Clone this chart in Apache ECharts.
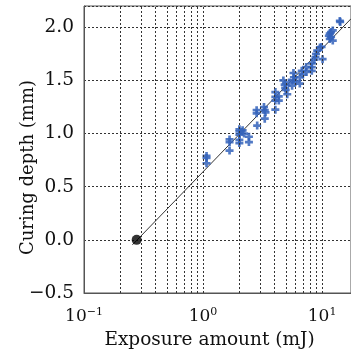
<!DOCTYPE html>
<html>
<head>
<meta charset="utf-8">
<script src="https://cdn.jsdelivr.net/npm/echarts@6/dist/echarts.min.js"></script>
<style>
  html, body { margin: 0; padding: 0; background: #fff; }
  #chart { width: 351px; height: 356px; }
</style>
</head>
<body>
<div id="chart"></div>
<script>
// measured curing depth (mm) vs exposure (mJ)
const measX = [1.07, 1.07, 1.07, 1.67, 1.67, 1.67, 2.02, 2.02, 2.02, 2.02, 2.02, 2.21, 2.15,
  2.43, 2.43, 2.85, 2.82, 2.82, 3.25, 3.3, 3.3, 3.35, 4.05, 4.05, 4.05, 4.05, 4.33, 4.33,
  4.73, 4.85, 4.9, 4.95, 5.1, 5.3, 5.75, 5.8, 5.75, 5.6, 6.0, 6.5, 6.5, 6.75, 6.9,
  7.35, 7.4, 8.2, 8.2, 8.2, 8.6, 8.8, 8.9, 9.1, 9.6, 9.9, 10.1, 11.4, 11.6, 11.9, 11.6, 11.9,
  12.3, 12.3, 14.1, 14.2];
const measY = [0.79, 0.77, 0.72, 0.945, 0.92, 0.84, 1.04, 1.02, 0.99, 0.94, 0.91, 1.0, 1.03,
  0.97, 0.92, 1.075, 1.22, 1.19, 1.25, 1.22, 1.14, 1.2, 1.39, 1.345, 1.31, 1.225, 1.35, 1.31,
  1.5, 1.46, 1.43, 1.41, 1.37, 1.48, 1.57, 1.53, 1.5, 1.45, 1.49, 1.53, 1.47, 1.59, 1.555,
  1.625, 1.58, 1.66, 1.625, 1.59, 1.695, 1.72, 1.75, 1.78, 1.81, 1.815, 1.70, 1.92, 1.94, 1.955, 1.89, 1.91,
  1.875, 1.97, 2.06, 2.05];
// critical exposure point
const critPoint = [[0.277, 0.0]];
// fitted working curve endpoints
const fitLine = [[0.255, -0.047], [17.5, 2.08]];
// dotted log grid positions
const xGrid = [0.2, 0.3, 0.4, 0.5, 0.6, 0.7, 0.8, 0.9, 1, 2, 3, 4, 5, 6, 7, 8, 9, 10];
const supMap = {'-1': '\u22121', '0': '0', '1': '1'};

const font = 'DejaVu Serif';
const txt = '#111';
const dotted = {color: '#333', width: 1, type: [2, 2]};

const chart = echarts.init(document.getElementById('chart'));
const opts = {
  animation: false,
  grid: {left: 84, right: 0, top: 6, bottom: 63, show: true, borderColor: '#555', borderWidth: 1},
  xAxis: {
    type: 'log',
    logBase: 10,
    min: 0.1,
    max: 17.5,
    name: 'Exposure amount (mJ)',
    nameLocation: 'middle',
    nameGap: 38,
    nameMoveOverlap: false,
    nameTextStyle: {fontFamily: font, fontSize: 18.5, color: txt, padding: [0, 16, 0, 0]},
    axisLine: {onZero: false, lineStyle: {color: '#555'}},
    axisTick: {show: false},
    splitLine: {show: false},
    axisLabel: {
      margin: 14,
      showMaxLabel: false,
      formatter: v => {
        const e = Math.round(Math.log10(v));
        return '{b|10}{s|' + supMap[String(e)] + '}';
      },
      rich: {
        b: {fontFamily: font, fontSize: 17, color: txt},
        s: {fontFamily: font, fontSize: 11, color: txt, verticalAlign: 'top', padding: [0, 0, 8, 0]}
      }
    }
  },
  yAxis: {
    type: 'value',
    min: -0.5,
    max: 2.2,
    interval: 0.5,
    name: 'Curing depth (mm)',
    nameLocation: 'middle',
    nameGap: 47,
    nameMoveOverlap: false,
    nameTextStyle: {fontFamily: font, fontSize: 18, color: txt, padding: [0, 36, 0, 0]},
    axisLine: {show: true, onZero: false, lineStyle: {color: '#555'}},
    axisTick: {show: false},
    splitLine: {show: true, lineStyle: dotted},
    axisLabel: {
      margin: 10,
      showMaxLabel: false,
      fontFamily: font,
      fontSize: 18.5,
      color: txt,
      formatter: v => (v < 0 ? '\u2212' + Math.abs(v).toFixed(1) : v.toFixed(1))
    }
  },
  series: [
    {
      type: 'line',
      data: fitLine,
      symbol: 'none',
      lineStyle: {color: '#333', width: 1},
      z: 3,
      markLine: {
        silent: true,
        symbol: 'none',
        label: {show: false},
        lineStyle: dotted,
        data: xGrid.map(x => ({xAxis: x}))
      }
    },
    {
      type: 'scatter',
      data: measX.map((x, i) => [x, measY[i]]),
      symbol: 'path://M3,0h3v3h3v3h-3v3h-3v-3h-3v-3h3z',
      symbolSize: 8,
      itemStyle: {color: '#3463bb', opacity: 0.85},
      z: 4
    },
    {
      type: 'scatter',
      data: critPoint,
      symbolSize: 10,
      itemStyle: {color: '#000'},
      z: 5
    }
  ]
};
chart.setOption(opts);
</script>
</body>
</html>
